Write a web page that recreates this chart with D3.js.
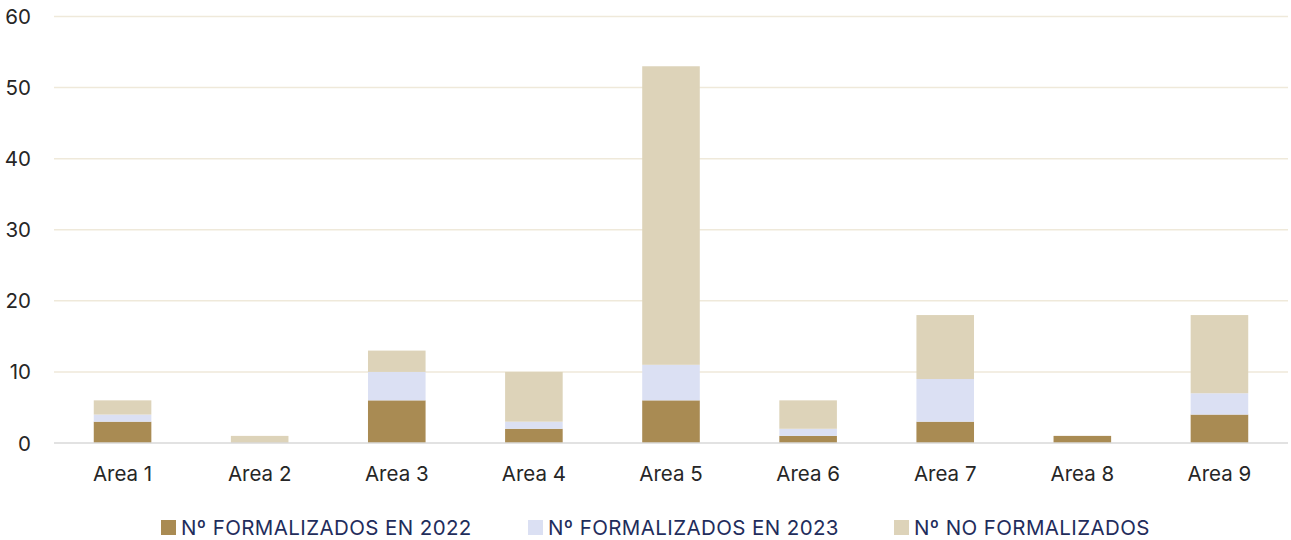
<!DOCTYPE html>
<html>
<head>
<meta charset="utf-8">
<script src="https://cdn.jsdelivr.net/npm/d3@7"></script>
<style>
body{margin:0;background:#fff;}
</style>
</head>
<body>
<svg id="svg" width="1291" height="540"></svg>
<script>
const categories = ['Area 1','Area 2','Area 3','Area 4','Area 5','Area 6','Area 7','Area 8','Area 9'];
const seriesNames = ['Nº FORMALIZADOS EN 2022','Nº FORMALIZADOS EN 2023','Nº NO FORMALIZADOS'];
const formalizados2022 = [3,0,6,2,6,1,3,1,4];
const formalizados2023 = [1,0,4,1,5,1,6,0,3];
const noFormalizados = [2,1,3,7,42,4,9,0,11];
const yTicks = [0,10,20,30,40,50,60];
const colors = ['#a98b53','#dbe0f3','#ddd3b9'];

const svg = d3.select('#svg');
const plotLeft = 54, plotRight = 1288, plotTop = 16.5, plotBottom = 443;
const font = 'Inter, "Noto Sans", sans-serif';

const rows = categories.map((c,i) => ({cat:c, s0:formalizados2022[i], s1:formalizados2023[i], s2:noFormalizados[i]}));
const stack = d3.stack().keys(['s0','s1','s2'])(rows);

const x = d3.scaleBand().domain(categories).range([plotLeft,plotRight]).paddingInner(0.58).paddingOuter(0.29);
const y = d3.scaleLinear().domain([0,60]).range([plotBottom,plotTop]);

// grid
svg.append('g').selectAll('line').data(yTicks.filter(d => d > 0)).enter().append('line')
    .attr('x1',plotLeft).attr('x2',plotRight)
    .attr('y1',d => y(d)).attr('y2',d => y(d))
    .attr('stroke','#efe9da').attr('stroke-width',1.5);

// y labels
svg.append('g').selectAll('text').data(yTicks).enter().append('text')
    .attr('x',31).attr('y',d => y(d)+7.5)
    .attr('text-anchor','end')
    .attr('font-family',font).attr('font-size',20.5)
    .attr('fill','#262626')
    .text(d => d);

// bars
svg.append('g').selectAll('g').data(stack).enter().append('g')
    .attr('fill',(d,i) => colors[i])
    .selectAll('rect').data(d => d).enter().append('rect')
    .attr('x',d => x(d.data.cat))
    .attr('width',x.bandwidth())
    .attr('y',d => y(d[1]))
    .attr('height',d => y(d[0]) - y(d[1]));

// baseline
svg.append('line').attr('x1',plotLeft).attr('x2',plotRight).attr('y1',plotBottom).attr('y2',plotBottom)
    .attr('stroke','#d9d9d9').attr('stroke-width',1.5);

// x labels
svg.append('g').selectAll('text').data(categories).enter().append('text')
    .attr('x',d => x(d) + x.bandwidth()/2).attr('y',481)
    .attr('text-anchor','middle')
    .attr('font-family',font).attr('font-size',20.5)
    .attr('fill','#262626')
    .text(d => d);

// legend
const legendX = [161,528,894];
const lg = svg.append('g').selectAll('g').data(seriesNames).enter().append('g')
    .attr('transform',(d,i) => 'translate(' + legendX[i] + ',520)');
lg.append('rect').attr('width',15).attr('height',15).attr('fill',(d,i) => colors[i]);
lg.append('text').attr('x',20).attr('y',14.5)
    .attr('font-family',font).attr('font-size',20.5)
    .attr('letter-spacing',0.4)
    .attr('fill','#1f2d5c')
    .text(d => d);
</script>
</body>
</html>
